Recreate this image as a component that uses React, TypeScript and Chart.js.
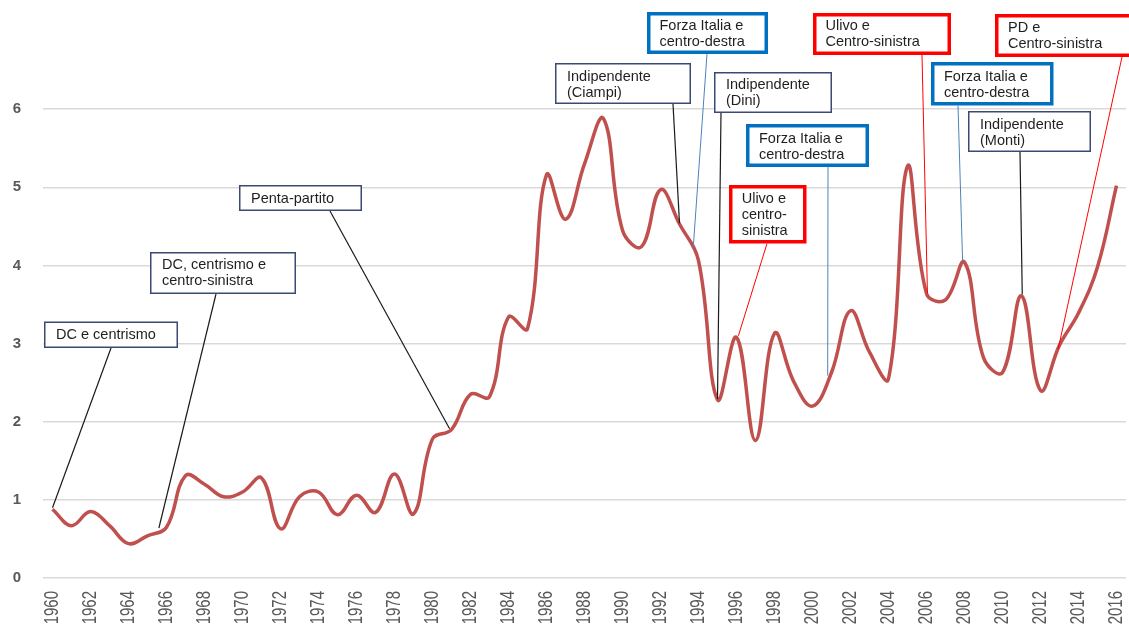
import React, { useEffect, useRef } from "react";
import { Chart, registerables } from "chart.js";

Chart.register(...registerables);

// ---------- data ----------
const years = [
  1960, 1961, 1962, 1963, 1964, 1965, 1966, 1967, 1968, 1969,
  1970, 1971, 1972, 1973, 1974, 1975, 1976, 1977, 1978, 1979,
  1980, 1981, 1982, 1983, 1984, 1985, 1986, 1987, 1988, 1989,
  1990, 1991, 1992, 1993, 1994, 1995, 1996, 1997, 1998, 1999,
  2000, 2001, 2002, 2003, 2004, 2005, 2006, 2007, 2008, 2009,
  2010, 2011, 2012, 2013, 2014, 2015, 2016,
];

const values = [
  0.88, 0.67, 0.85, 0.67, 0.44, 0.54, 0.65, 1.31, 1.2, 1.04,
  1.1, 1.28, 0.63, 1.04, 1.1, 0.81, 1.06, 0.84, 1.33, 0.82,
  1.78, 1.9, 2.35, 2.32, 3.34, 3.19, 5.16, 4.59, 5.3, 5.88,
  4.45, 4.24, 4.97, 4.53, 4.06, 2.28, 3.08, 1.76, 3.13, 2.52,
  2.2, 2.63, 3.42, 2.89, 2.55, 5.27, 3.64, 3.56, 4.04, 2.82,
  2.63, 3.61, 2.4, 2.98, 3.39, 3.98, 5.02,
];

const yTickValues = [0, 1, 2, 3, 4, 5, 6];

const xTickLabels = [
  "1960", "1962", "1964", "1966", "1968", "1970", "1972", "1974", "1976", "1978",
  "1980", "1982", "1984", "1986", "1988", "1990", "1992", "1994", "1996", "1998",
  "2000", "2002", "2004", "2006", "2008", "2010", "2012", "2014", "2016",
];

// annotation texts and the point on the curve each one points at
const annotationTexts: string[][] = [
  ["DC e centrismo"],
  ["DC, centrismo e", "centro-sinistra"],
  ["Penta-partito"],
  ["Indipendente", "(Ciampi)"],
  ["Forza Italia e", "centro-destra"],
  ["Indipendente", "(Dini)"],
  ["Forza Italia e", "centro-destra"],
  ["Ulivo e", "centro-", "sinistra"],
  ["Ulivo e", "Centro-sinistra"],
  ["Forza Italia e", "centro-destra"],
  ["Indipendente", "(Monti)"],
  ["PD e", "Centro-sinistra"],
];
const annotationYears = [1960, 1965.6, 1980.9, 1993, 1993.72, 1995, 2000.8, 1996.1, 2006.05, 2007.9, 2011.04, 2012.93];
const annotationValues = [0.9, 0.64, 1.91, 4.54, 4.22, 2.29, 2.59, 3.1, 3.64, 4.05, 3.63, 2.93];
const annotationKinds = ["plain", "plain", "plain", "plain", "blue", "plain", "blue", "red", "red", "blue", "plain", "red"];

// ---------- layout / styles (pixels) ----------
const boxLayout = [
  { x0: 44, y0: 321.5, x1: 178, y1: 348, tx: 56, ty: 335, ax: 111 },
  { x0: 150, y0: 252, x1: 296, y1: 294, tx: 162, ty: 265, ax: 216 },
  { x0: 239, y0: 185, x1: 362, y1: 211, tx: 251, ty: 198.5, ax: 330 },
  { x0: 555, y0: 63, x1: 691, y1: 104, tx: 567, ty: 76.5, ax: 673 },
  { x0: 647, y0: 12, x1: 768, y1: 54, tx: 659.5, ty: 25.5, ax: 707 },
  { x0: 714, y0: 72, x1: 832, y1: 113, tx: 726, ty: 85, ax: 721 },
  { x0: 746, y0: 124, x1: 869, y1: 167, tx: 759, ty: 138.5, ax: 828 },
  { x0: 729, y0: 185, x1: 806.5, y1: 243.5, tx: 741.7, ty: 198.5, ax: 767 },
  { x0: 813, y0: 13, x1: 951, y1: 55, tx: 825.5, ty: 26, ax: 922 },
  { x0: 931, y0: 62, x1: 1053.5, y1: 105.5, tx: 944, ty: 76.5, ax: 958 },
  { x0: 968, y0: 111, x1: 1091, y1: 152, tx: 980, ty: 124.5, ax: 1020 },
  { x0: 995, y0: 14, x1: 1140, y1: 57, tx: 1008, ty: 28, ax: 1122 },
];

const kindStyle: Record<string, { border: string; width: number; leader: string; leaderWidth: number }> = {
  plain: { border: "#3B4A72", width: 1.5, leader: "#1A1A1A", leaderWidth: 1.2 },
  blue: { border: "#0070C0", width: 3.5, leader: "#4F81BD", leaderWidth: 1 },
  red: { border: "#FF0000", width: 3.5, leader: "#FF0000", leaderWidth: 1 },
};

const FONT = '"Liberation Sans", Arial, sans-serif';

const overlayPlugin = {
  id: "overlay",
  afterDraw(chart: any) {
    const ctx = chart.ctx as CanvasRenderingContext2D;
    const xs = chart.scales.x;
    const ys = chart.scales.y;

    // x tick labels (condensed, rotated)
    ctx.save();
    ctx.fillStyle = "#595959";
    ctx.font = `20px ${FONT}`;
    ctx.textAlign = "right";
    ctx.textBaseline = "middle";
    for (const lab of xTickLabels) {
      const px = xs.getPixelForValue(Number(lab));
      ctx.save();
      ctx.translate(px, ys.bottom + 13);
      ctx.rotate(-Math.PI / 2);
      ctx.scale(0.75, 1);
      ctx.fillText(lab, 0, 0);
      ctx.restore();
    }
    ctx.restore();

    // leader lines
    annotationTexts.forEach((_, i) => {
      const b = boxLayout[i];
      const st = kindStyle[annotationKinds[i]];
      const px = xs.getPixelForValue(annotationYears[i]);
      const py = ys.getPixelForValue(annotationValues[i]);
      ctx.save();
      ctx.strokeStyle = st.leader;
      ctx.lineWidth = st.leaderWidth;
      ctx.beginPath();
      ctx.moveTo(b.ax, b.y1);
      ctx.lineTo(px, py);
      ctx.stroke();
      ctx.restore();
    });

    // boxes
    annotationTexts.forEach((lines, i) => {
      const b = boxLayout[i];
      const st = kindStyle[annotationKinds[i]];
      const h = st.width / 2;
      ctx.save();
      ctx.fillStyle = "#FFFFFF";
      ctx.fillRect(b.x0, b.y0, b.x1 - b.x0, b.y1 - b.y0);
      ctx.strokeStyle = st.border;
      ctx.lineWidth = st.width;
      ctx.strokeRect(b.x0 + h, b.y0 + h, b.x1 - b.x0 - st.width, b.y1 - b.y0 - st.width);
      ctx.fillStyle = "#1F1F1F";
      ctx.font = `14.5px ${FONT}`;
      ctx.textAlign = "left";
      ctx.textBaseline = "middle";
      lines.forEach((t, k) => ctx.fillText(t, b.tx, b.ty + k * 16));
      ctx.restore();
    });
  },
};

export default function App() {
  const canvasRef = useRef<HTMLCanvasElement | null>(null);

  useEffect(() => {
    document.body.style.margin = "0";
    const canvas = canvasRef.current;
    if (!canvas) return;
    const chart = new Chart(canvas, {
      type: "line",
      data: {
        datasets: [
          {
            data: years.map((y, i) => ({ x: y, y: values[i] })),
            borderColor: "#C0504D",
            borderWidth: 3.5,
            pointRadius: 0,
            pointHoverRadius: 0,
            tension: 0.4,
            fill: false,
          },
        ],
      },
      options: {
        animation: false,
        responsive: true,
        maintainAspectRatio: false,
        layout: { padding: { top: 28.5, right: 3, left: 0, bottom: 0 } },
        plugins: { legend: { display: false }, tooltip: { enabled: false } },
        scales: {
          x: {
            type: "linear",
            min: 1959.5,
            max: 2016.5,
            grid: { display: false },
            border: { display: false },
            ticks: { display: false },
            afterBuildTicks: (scale: any) => {
              scale.ticks = xTickLabels.map((l) => ({ value: Number(l) }));
            },
            afterFit: (scale: any) => {
              scale.height = 50;
            },
          },
          y: {
            min: 0,
            max: 7,
            grid: { color: "#D9D9D9", lineWidth: 1.5, drawTicks: false },
            border: { display: false },
            ticks: {
              padding: 22,
              color: "#595959",
              font: { size: 15, family: FONT, weight: "bold" },
            },
            afterBuildTicks: (scale: any) => {
              scale.ticks = yTickValues.map((v) => ({ value: v }));
            },
            afterFit: (scale: any) => {
              scale.width = 43;
            },
          },
        },
      },
      plugins: [overlayPlugin],
    });
    return () => chart.destroy();
  }, []);

  return (
    <div style={{ position: "relative", width: 1129, height: 628, background: "#FFFFFF" }}>
      <canvas ref={canvasRef} />
    </div>
  );
}
